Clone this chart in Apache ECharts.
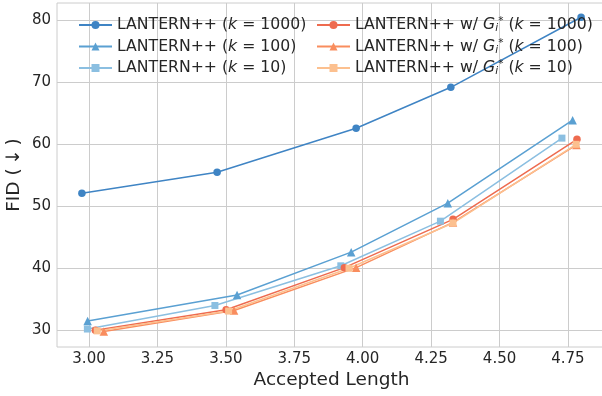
<!DOCTYPE html>
<html>
<head>
<meta charset="utf-8">
<script src="https://cdn.jsdelivr.net/npm/echarts@6/dist/echarts.min.js"></script>
<style>html,body{margin:0;padding:0;background:#fff;}#c{width:602px;height:396px;}</style>
</head>
<body>
<div id="c"></div>
<script>
// ---- data ----
const xTicks = [3.00, 3.25, 3.50, 3.75, 4.00, 4.25, 4.50, 4.75];
const yTicks = [30, 40, 50, 60, 70, 80];

const lenK1000 = [2.974, 3.468, 3.976, 4.322, 4.798];
const fidK1000 = [52.1, 55.5, 62.6, 69.2, 80.5];
const lenK100 = [2.995, 3.541, 3.958, 4.311, 4.767];
const fidK100 = [31.5, 35.7, 42.6, 50.5, 63.9];
const lenK10 = [2.994, 3.460, 3.920, 4.284, 4.728];
const fidK10 = [30.2, 34.0, 40.4, 47.6, 61.0];
const lenGK1000 = [3.023, 3.501, 3.933, 4.330, 4.783];
const fidGK1000 = [30.0, 33.3, 40.1, 47.9, 60.8];
const lenGK100 = [3.054, 3.530, 3.976, 4.330, 4.781];
const fidGK100 = [29.8, 33.2, 40.1, 47.4, 59.9];
const lenGK10 = [3.030, 3.510, 3.950, 4.330, 4.780];
const fidGK10 = [29.9, 33.1, 40.0, 47.3, 60.0];

const names = [
  'LANTERN++ (k = 1000)', 'LANTERN++ (k = 100)', 'LANTERN++ (k = 10)',
  'LANTERN++ w/ G (k = 1000)', 'LANTERN++ w/ G (k = 100)', 'LANTERN++ w/ G (k = 10)'
];
const richLabels = [
  'LANTERN++ ({k|k} = 1000)', 'LANTERN++ ({k|k} = 100)', 'LANTERN++ ({k|k} = 10)',
  'LANTERN++ w/ {k|G}{sub|i}{sup|*} ({k|k} = 1000)',
  'LANTERN++ w/ {k|G}{sub|i}{sup|*} ({k|k} = 100)',
  'LANTERN++ w/ {k|G}{sub|i}{sup|*} ({k|k} = 10)'
];

const seriesDefs = [
  {name: names[0], xs: lenK1000, ys: fidK1000, color: '#3f84c4', symbol: 'circle', size: 7.5},
  {name: names[1], xs: lenK100, ys: fidK100, color: '#5aa0d2', symbol: 'triangle', size: 8.5},
  {name: names[2], xs: lenK10, ys: fidK10, color: '#8bbfe1', symbol: 'rect', size: 7},
  {name: names[3], xs: lenGK1000, ys: fidGK1000, color: '#ee6b4f', symbol: 'circle', size: 7.5},
  {name: names[4], xs: lenGK100, ys: fidGK100, color: '#f98d5e', symbol: 'triangle', size: 8.5},
  {name: names[5], xs: lenGK10, ys: fidGK10, color: '#fcc08f', symbol: 'rect', size: 7}
];

const textColor = '#262626';
const gridColor = '#cccccc';
const font = 'DejaVu Sans';
const legendFs = 15.7;

const rich = {
  k: {fontFamily: font, fontSize: legendFs, fontStyle: 'italic', color: textColor, lineHeight: 18},
  sub: {fontFamily: font, fontSize: 10.5, fontStyle: 'italic', color: textColor, verticalAlign: 'bottom', lineHeight: 18},
  sup: {fontFamily: font, fontSize: 10.5, color: textColor, verticalAlign: 'top', lineHeight: 18}
};

function legendOf(list, left) {
  return {
    orient: 'vertical', left: left, top: 16, padding: 0,
    itemWidth: 33, itemHeight: 10, itemGap: 3.5,
    data: list,
    textStyle: {fontFamily: font, fontSize: legendFs, color: textColor, lineHeight: 18, rich: rich},
    formatter: function (n) { return richLabels[names.indexOf(n)]; }
  };
}

const option = {
  animation: false,
  backgroundColor: '#ffffff',
  grid: {left: 57, right: -4, top: 3, bottom: 49, show: true, borderColor: gridColor, borderWidth: 1,
    containLabel: false, outerBoundsMode: 'none'},
  legend: [legendOf(names.slice(0, 3), 78), legendOf(names.slice(3), 316)],
  xAxis: {
    type: 'value', min: 2.883, max: 4.889,
    name: 'Accepted Length', nameLocation: 'middle', nameGap: 24, nameMoveOverlap: false,
    nameTextStyle: {fontFamily: font, fontSize: 18.5, color: textColor},
    axisLine: {show: false},
    axisTick: {show: false, customValues: xTicks},
    axisLabel: {customValues: xTicks, fontFamily: font, fontSize: 15, color: textColor, margin: 5,
      formatter: v => v.toFixed(2)},
    splitLine: {show: true, lineStyle: {color: gridColor, width: 1}}
  },
  yAxis: {
    type: 'value', min: 27.3, max: 82.8,
    name: 'FID (\u2009\u2193\u2009)', nameLocation: 'middle', nameGap: 33, nameMoveOverlap: false,
    nameTextStyle: {fontFamily: font, fontSize: 18.5, color: textColor},
    axisLine: {show: false},
    axisTick: {show: false, customValues: yTicks},
    axisLabel: {customValues: yTicks, fontFamily: font, fontSize: 15, color: textColor, margin: 6},
    splitLine: {show: true, lineStyle: {color: gridColor, width: 1}}
  },
  series: seriesDefs.map(s => ({
    name: s.name, type: 'line',
    data: s.xs.map((x, i) => [x, s.ys[i]]),
    symbol: s.symbol, symbolSize: s.size, showSymbol: true,
    lineStyle: {color: s.color, width: 1.5},
    itemStyle: {color: s.color, opacity: 1},
    z: 2
  }))
};

const chart = echarts.init(document.getElementById('c'), null, {renderer: 'canvas'});
chart.setOption(option);
</script>
</body>
</html>
